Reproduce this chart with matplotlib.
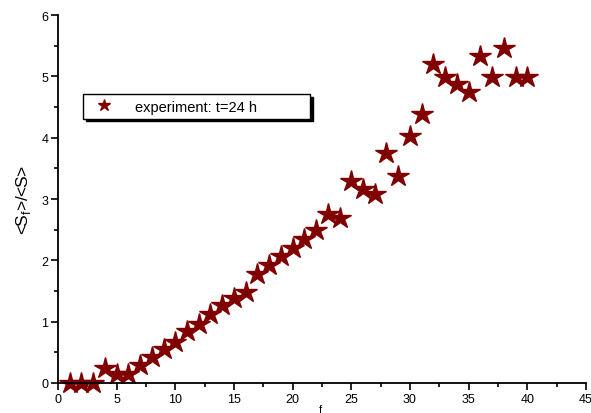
import numpy as np
import matplotlib
matplotlib.use("Agg")
import matplotlib.pyplot as plt
from matplotlib.ticker import MultipleLocator

plt.rcParams['font.family'] = ['Liberation Sans', 'DejaVu Sans']

# data
f_vals = [1, 2, 3, 4, 5, 6, 7, 8, 9, 10,
          11, 12, 13, 14, 15, 16, 17, 18, 19, 20,
          21, 22, 23, 24, 25, 26, 27, 28, 29, 30,
          31, 32, 33, 34, 35, 36, 37, 38, 39, 40]
ratio = [0.0, 0.0, 0.0, 0.24, 0.15, 0.15, 0.3, 0.42, 0.55, 0.67,
         0.84, 0.97, 1.13, 1.27, 1.38, 1.49, 1.78, 1.93, 2.07, 2.2,
         2.35, 2.5, 2.76, 2.69, 3.3, 3.16, 3.08, 3.75, 3.38, 4.03,
         4.39, 5.2, 4.99, 4.88, 4.74, 5.34, 4.99, 5.46, 4.99, 4.99]
series_label = "experiment: t=24 h"

fig = plt.figure(figsize=(5.91, 4.14), dpi=100)
ax = fig.add_axes([0.098, 0.0725, 0.8935, 0.8885])

ax.plot(f_vals, ratio, linestyle='none', marker='*', markersize=16,
        color='#800000', markeredgecolor='#800000', clip_on=False,
        label=series_label)

ax.set_xlim(0, 45)
ax.set_ylim(0, 6)
ax.xaxis.set_major_locator(MultipleLocator(5))
ax.xaxis.set_minor_locator(MultipleLocator(2.5))
ax.yaxis.set_major_locator(MultipleLocator(1))
ax.yaxis.set_minor_locator(MultipleLocator(0.5))

for side in ['top', 'right']:
    ax.spines[side].set_visible(False)
for side in ['left', 'bottom']:
    ax.spines[side].set_linewidth(1.3)

ax.tick_params(which='major', direction='out', length=5, width=1.2, labelsize=9, pad=2)
ax.tick_params(which='minor', direction='out', length=3, width=1.2)

ax.set_ylabel(r'<S$_\mathregular{f}$>/<S>', fontsize=12.5, labelpad=6)
ax.text(22.4, -0.42, 'f', fontsize=8, ha='center', va='center')

leg = ax.legend(loc='center', bbox_to_anchor=(0.047, 0.712, 0.43, 0.079),
                mode='expand', fancybox=False, edgecolor='black',
                framealpha=1, fontsize=10.5, markerscale=0.55,
                shadow={'color': 'black', 'alpha': 1}, borderaxespad=0,
                handletextpad=1.0, borderpad=0.35, handlelength=2.2)
leg.get_frame().set_linewidth(1.0)

fig.savefig('out.png', dpi=100)
